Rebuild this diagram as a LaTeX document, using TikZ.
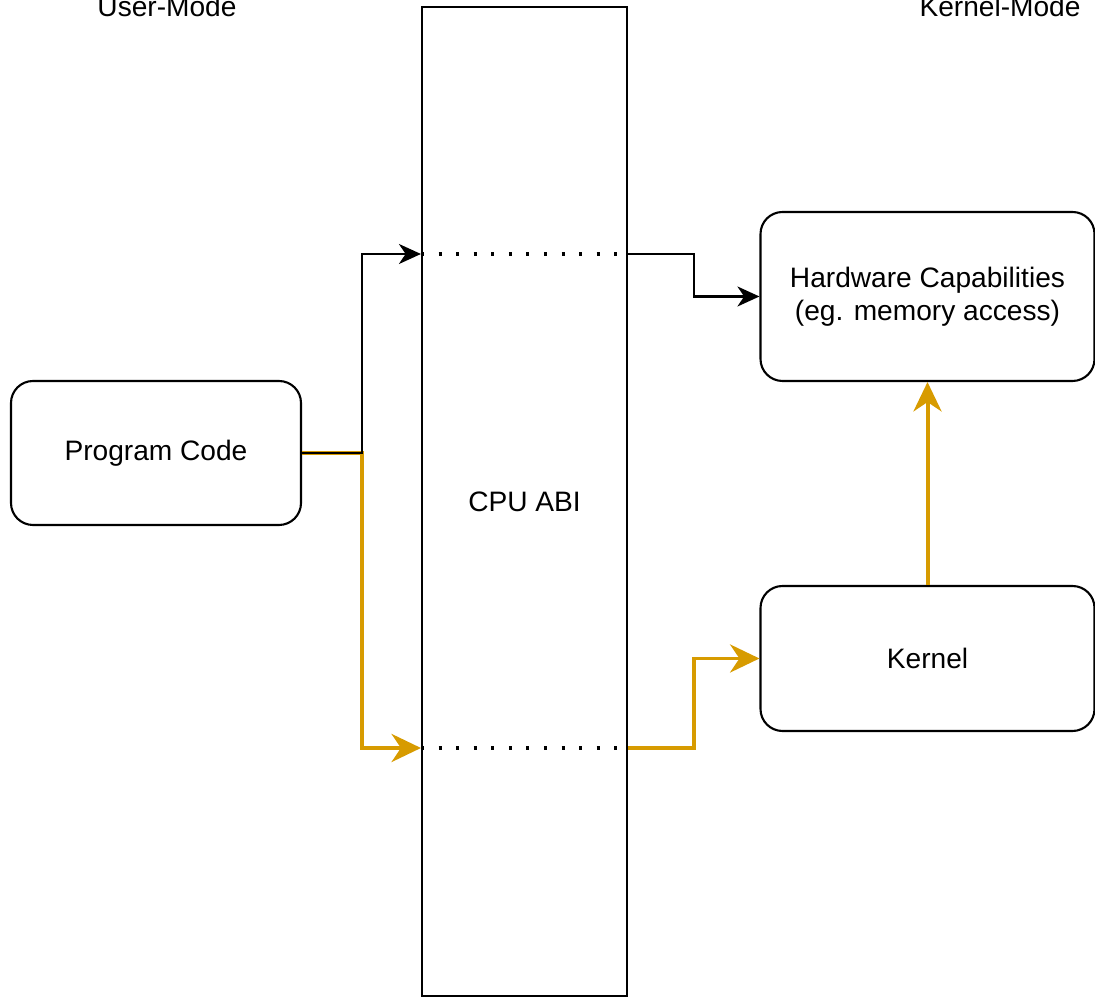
\documentclass[tikz,border=0pt]{standalone}
\usepackage{fontspec}
\setmainfont{Liberation Sans}
\usetikzlibrary{arrows.meta}
\definecolor{callorange}{HTML}{D79B00}

\begin{document}
\begin{tikzpicture}[
	every node/.style={font=\fontsize{12}{14}\selectfont},
	box/.style={draw, line width=0.9pt, rounded corners=0.33cm, align=center, inner sep=0pt},
	blackcall/.style={line width=0.9pt, -{Stealth[length=3.3mm, width=3mm, inset=1mm]}},
	orangecall/.style={callorange, line width=1.7pt, -{Stealth[length=4.4mm, width=4.2mm, inset=1.4mm]}},
	gate/.style={line width=1.3pt, dash pattern=on 1.3pt off 6.2pt}
	]
			\useasboundingbox (0,0) rectangle (16.425,14.955);
			
			\node[anchor=base] (usermode) at (2.505,14.7) {User-Mode};
			\node[anchor=base] (kernelmode) at (15.0,14.7) {Kernel-Mode};
			
			\node[draw, line width=0.9pt, minimum width=3.075cm, minimum height=14.835cm, inner sep=0pt] (cpuabi) at (7.8675,7.4325) {CPU ABI};
			
			\node[box, minimum width=4.35cm, minimum height=2.16cm] (pcode) at (2.34,8.16) {Program Code};
			\node[box, minimum width=5.01cm, minimum height=2.535cm] (hwcap) at (13.9125,10.5075) {Hardware Capabilities\\(eg. memory access)};
			\node[box, minimum width=5.01cm, minimum height=2.175cm] (kernel) at (13.9125,5.0775) {Kernel};
			
			\coordinate (directin) at (cpuabi.west |- 0,11.145);
			\coordinate (directout) at (cpuabi.east |- 0,11.145);
			\coordinate (trapin) at (cpuabi.west |- 0,3.735);
			\coordinate (trapout) at (cpuabi.east |- 0,3.735);
			
			% through the kernel
			\draw[orangecall, rounded corners=0pt] (pcode.east) -- ++(0.9,0) |- (trapin);
			\draw[gate] (trapin) -- (trapout);
			\draw[orangecall] (trapout) -- ++(0.99,0) |- (kernel.west);
			\draw[orangecall] (kernel.north) -- (hwcap.south);
			
			% straight to the hardware
			\draw[blackcall] (pcode.east) -- ++(0.9,0) |- (directin);
			\draw[gate] (directin) -- (directout);
			\draw[blackcall] (directout) -- ++(0.99,0) |- (hwcap.west);
\end{tikzpicture}
\end{document}
